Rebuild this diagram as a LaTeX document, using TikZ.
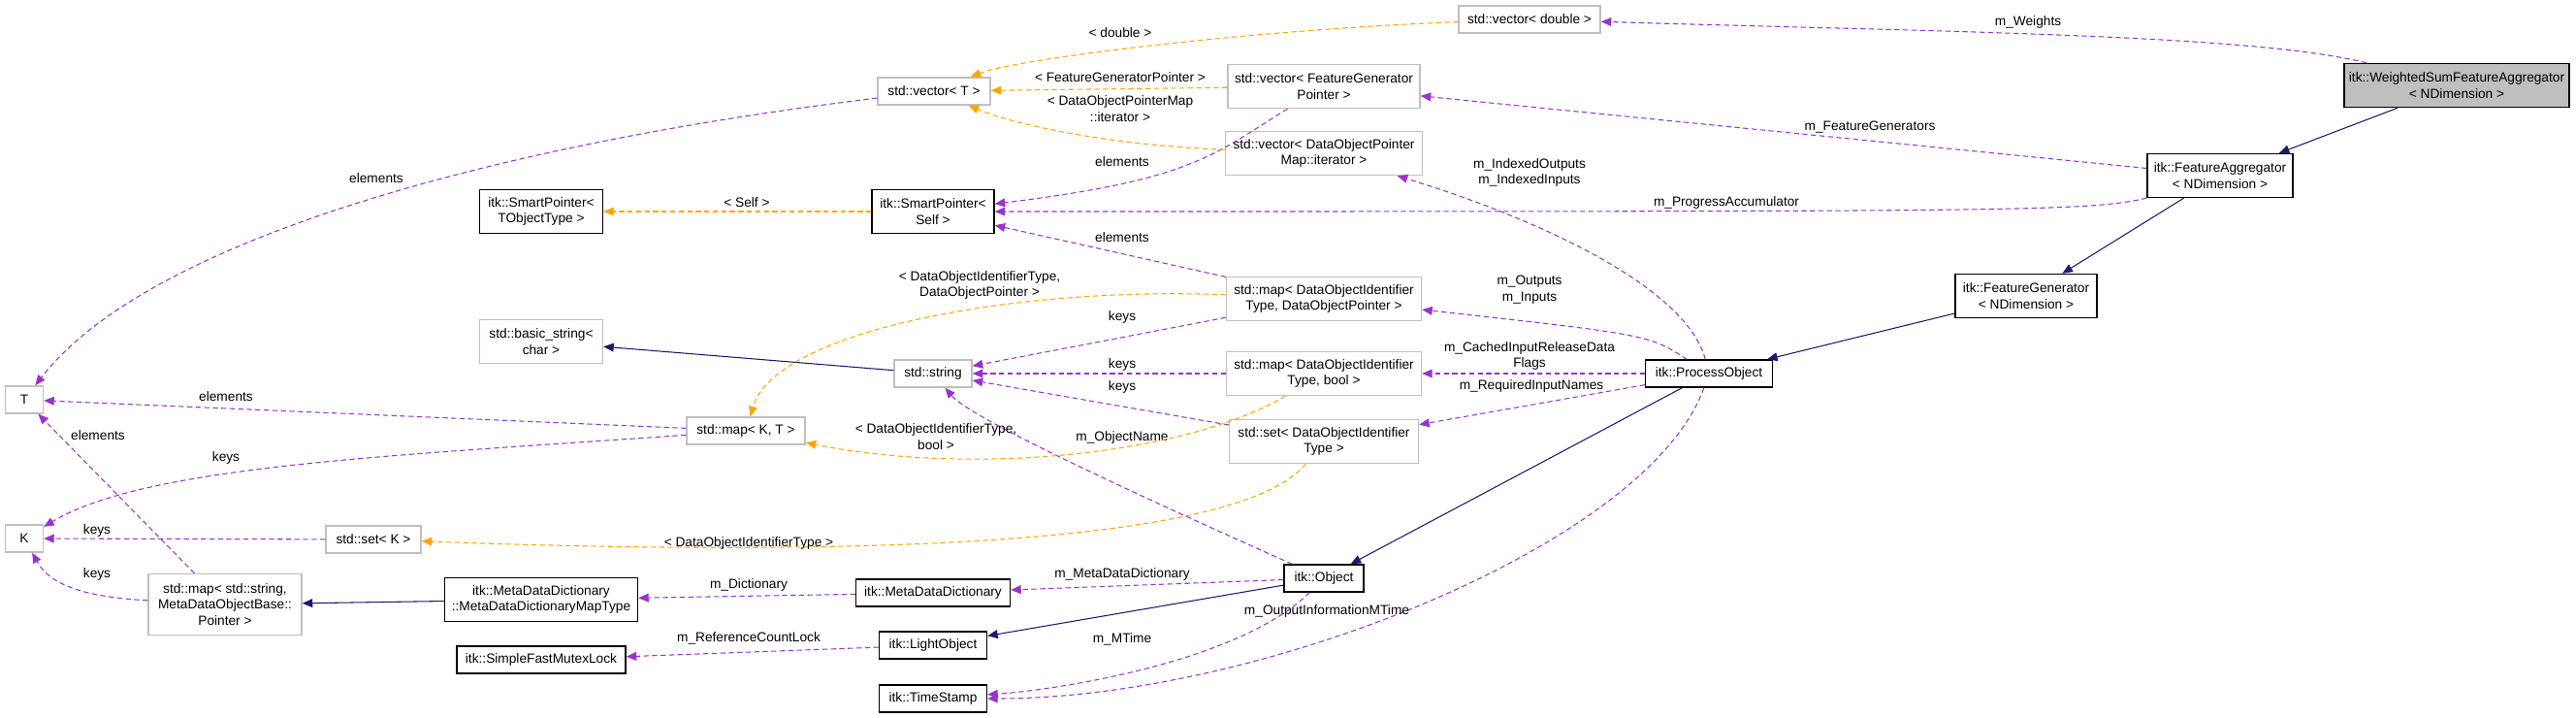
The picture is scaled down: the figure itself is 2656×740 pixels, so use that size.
\documentclass[tikz,border=0pt]{standalone}
\usepackage{fontspec}
\setmainfont{Liberation Sans}
\usetikzlibrary{arrows.meta}
\definecolor{use}{HTML}{9A32CD}
\definecolor{tmpl}{HTML}{FFA500}
\definecolor{inh}{HTML}{191970}
\tikzset{
  box/.style={draw=black, line width=0.8pt, fill=white, align=center, inner sep=1pt, minimum height=0.56cm},
  gbox/.style={box, draw=black!25},
  two/.style={minimum height=0.9cm},
  lbl/.style={font=\fontsize{7.8}{9.6}\selectfont, align=center, inner sep=0pt},
  tip/.style={-{Triangle[length=6pt,width=5pt]}},
  useedge/.style={tip, draw=use, dash pattern=on 3pt off 2pt, line width=0.6pt},
  tmpledge/.style={tip, draw=tmpl, dash pattern=on 3pt off 2pt, line width=0.6pt},
  inhedge/.style={tip, draw=inh, line width=0.6pt}
}
\begin{document}
\begin{tikzpicture}[x=0.02cm, y=-0.02cm, font=\fontsize{7.8}{9.6}\selectfont]
        \useasboundingbox (0,0) rectangle (2656,740);
        % Nodes
        \node [box, two, fill=black!25, minimum width=4.64cm] (ws) at (2533,88) {itk::WeightedSumFeatureAggregator\\< NDimension >};
        \node [box, two, minimum width=3cm] (fa) at (2289,181) {itk::FeatureAggregator\\< NDimension >};
        \node [box, two, minimum width=2.92cm] (fg) at (2089,305) {itk::FeatureGenerator\\< NDimension >};
        \node [box, minimum width=2.62cm] (po) at (1762,385) {itk::ProcessObject};
        \node [box, minimum width=1.64cm] (obj) at (1365,596) {itk::Object};
        \node [box, minimum width=3.18cm] (md) at (962,611) {itk::MetaDataDictionary};
        \node [box, minimum width=2.22cm] (lo) at (962,665) {itk::LightObject};
        \node [box, minimum width=2.22cm] (ts) at (962,720) {itk::TimeStamp};
        \node [box, two, minimum width=3.98cm] (mt) at (558,618) {itk::MetaDataDictionary\\::MetaDataDictionaryMapType};
        \node [box, minimum width=3.48cm] (sfm) at (558,680) {itk::SimpleFastMutexLock};
        \node [box, two, minimum width=2.54cm] (spt) at (558,218) {itk::SmartPointer<\\TObjectType >};
        \node [box, two, minimum width=2.52cm] (sps) at (962,218) {itk::SmartPointer<\\Self >};

        \node [gbox, minimum width=2.92cm] (vd) at (1577,20) {std::vector< double >};
        \node [gbox, minimum width=2.32cm] (vt) at (963,94) {std::vector< T >};
        \node [gbox, two, minimum width=3.96cm] (vfg) at (1365,89) {std::vector< FeatureGenerator\\Pointer >};
        \node [gbox, two, minimum width=4.06cm] (vdi) at (1365,158) {std::vector< DataObjectPointer\\Map::iterator >};
        \node [gbox, two, minimum width=4.02cm] (mdp) at (1365,308) {std::map< DataObjectIdentifier\\Type, DataObjectPointer >};
        \node [gbox, two, minimum width=4.02cm] (mdb) at (1365,385) {std::map< DataObjectIdentifier\\Type, bool >};
        \node [gbox, two, minimum width=3.9cm] (sdo) at (1365,455) {std::set< DataObjectIdentifier\\Type >};
        \node [gbox, minimum width=1.6cm] (str) at (962,385) {std::string};
        \node [gbox, two, minimum width=2.54cm] (bs) at (558,352) {std::basic\_string<\\char >};
        \node [gbox, minimum width=2.44cm] (mkt) at (769,444) {std::map< K, T >};
        \node [gbox, minimum width=1.96cm] (sk) at (385,556) {std::set< K >};
        \node [gbox, minimum width=3.16cm, minimum height=1.26cm] (msp) at (232,623) {std::map< std::string,\\MetaDataObjectBase::\\Pointer >};
        \node [gbox, minimum width=0.78cm] (T) at (25,412) {T};
        \node [gbox, minimum width=0.78cm] (K) at (25,555) {K};

        % Inheritance
        \draw [inhedge] (ws) -- (fa);
        \draw [inhedge] (fa) -- (fg);
        \draw [inhedge] (fg) -- (po);
        \draw [inhedge] (po) -- (obj);
        \draw [inhedge] (obj) -- (lo);
        \draw [inhedge] (str) -- (bs);
        \draw [inhedge] (mt) -- (msp);

        % Members
        \draw [useedge] (ws) .. controls (2320,35) and (2000,33) .. (vd) node [lbl] at (2091,23) {m\_Weights};
        \draw [useedge] (fa) -- (vfg) node [lbl] at (1928,131) {m\_FeatureGenerators};
        \draw [useedge] (fa.south west) .. controls (2150,218) and (2100,218) .. (sps) node [lbl] at (1780,209) {m\_ProgressAccumulator};
        \draw [useedge] (po) .. controls (1740,300) and (1600,230) .. (vdi) node [lbl] at (1577,178) {m\_IndexedOutputs\\m\_IndexedInputs};
        \draw [useedge] (po) .. controls (1700,345) .. (mdp) node [lbl] at (1577,299) {m\_Outputs\\m\_Inputs};
        \draw [useedge] (po) -- (mdb) node [lbl] at (1577,367) {m\_CachedInputReleaseData\\Flags};
        \draw [useedge] (po) -- (sdo) node [lbl] at (1579,398) {m\_RequiredInputNames};
        \draw [useedge] (po) .. controls (1700,560) and (1300,720) .. (ts) node [lbl] at (1368,630) {m\_OutputInformationMTime};
        \draw [useedge] (obj) .. controls (1150,500) and (1000,430) .. (str) node [lbl] at (1157,451) {m\_ObjectName};
        \draw [useedge] (obj) -- (md) node [lbl] at (1157,592) {m\_MetaDataDictionary};
        \draw [useedge] (obj) .. controls (1280,680) and (1100,710) .. (ts) node [lbl] at (1157,659) {m\_MTime};
        \draw [useedge] (md) -- (mt) node [lbl] at (772,603) {m\_Dictionary};
        \draw [useedge] (lo) -- (sfm) node [lbl] at (772,658) {m\_ReferenceCountLock};
        \draw [useedge] (vfg) .. controls (1250,160) and (1230,185) .. (sps) node [lbl] at (1157,167) {elements};
        \draw [useedge] (mdp) -- (sps) node [lbl] at (1157,245) {elements};
        \draw [useedge] (mdp) -- (str) node [lbl] at (1157,327) {keys};
        \draw [useedge] (mdb) -- (str) node [lbl] at (1157,376) {keys};
        \draw [useedge] (sdo) -- (str) node [lbl] at (1157,399) {keys};
        \draw [useedge] (vt) .. controls (500,150) and (150,250) .. (T) node [lbl] at (388,184) {elements};
        \draw [useedge] (mkt) -- (T) node [lbl] at (233,409) {elements};
        \draw [useedge] (mkt) .. controls (400,470) and (150,480) .. (K) node [lbl] at (233,472) {keys};
        \draw [useedge] (sk) -- (K) node [lbl] at (100,547) {keys};
        \draw [useedge] (msp) .. controls (80,615) and (50,600) .. (K) node [lbl] at (100,592) {keys};
        \draw [useedge] (msp) -- (T) node [lbl] at (101,449) {elements};

        % Template instances
        \draw [tmpledge] (vd) .. controls (1300,30) and (1050,60) .. (vt) node [lbl] at (1155,34) {< double >};
        \draw [tmpledge] (vfg) -- (vt) node [lbl] at (1155,80) {< FeatureGeneratorPointer >};
        \draw [tmpledge] (vdi) .. controls (1150,150) and (1050,130) .. (vt) node [lbl] at (1155,112) {< DataObjectPointerMap\\::iterator >};
        \draw [tmpledge] (sps) -- (spt) node [lbl] at (770,209) {< Self >};
        \draw [tmpledge] (mdp) .. controls (1050,295) and (800,340) .. (mkt) node [lbl] at (1010,294) {< DataObjectIdentifierType,\\DataObjectPointer >};
        \draw [tmpledge] (mdb) .. controls (1220,470) and (1000,490) .. (mkt) node [lbl] at (965,450) {< DataObjectIdentifierType,\\bool >};
        \draw [tmpledge] (sdo) .. controls (1280,560) and (900,575) .. (sk) node [lbl] at (772,560) {< DataObjectIdentifierType >};
    \end{tikzpicture}
\end{document}
